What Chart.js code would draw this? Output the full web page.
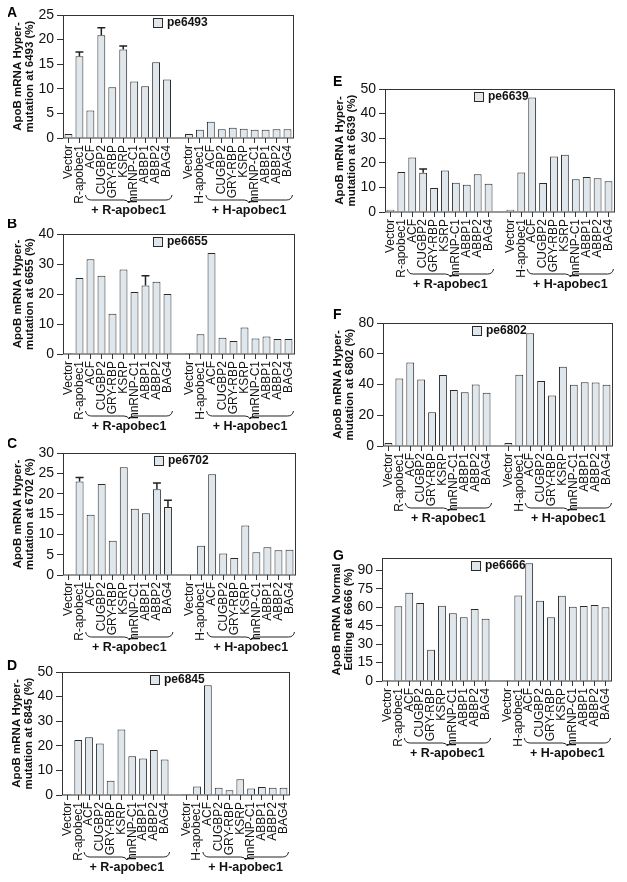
<!DOCTYPE html>
<html>
<head>
<meta charset="utf-8">
<script src="https://cdn.jsdelivr.net/npm/chart.js@4.4.1/dist/chart.umd.min.js"></script>
<style>
  html, body { margin: 0; padding: 0; background: #fff; overflow: hidden; width: 627px; height: 882px; }
  canvas { position: absolute; }
</style>
</head>
<body>
<canvas id="pA"></canvas>
<canvas id="pB"></canvas>
<canvas id="pC"></canvas>
<canvas id="pD"></canvas>
<canvas id="pE"></canvas>
<canvas id="pF"></canvas>
<canvas id="pG"></canvas>
<script>
/* Dados */

const categories = ["Vector", "R-apobec1", "ACF", "CUGBP2", "GRY-RBP", "KSRP", "hnRNP-C1", "ABBP1", "ABBP2", "BAG4", "",
  "Vector", "H-apobec1", "ACF", "CUGBP2", "GRY-RBP", "KSRP", "hnRNP-C1", "ABBP1", "ABBP2", "BAG4"];
const groupLabels = ["+ R-apobec1", "+ H-apobec1"];

const pe6493 = [0.8, 16.6, 5.6, 20.9, 10.3, 18.0, 11.5, 10.5, 15.4, 11.9, null, 0.8, 1.7, 3.3, 1.8, 2.1, 1.9, 1.7, 1.7, 1.8, 1.8];
const err6493 = [null, 0.9, null, 1.5, null, 0.7, null, null, null, null, null, null, null, null, null, null, null, null, null, null, null];

const pe6655 = [0.3, 25.3, 31.6, 26.1, 13.4, 28.2, 20.7, 22.8, 24.1, 20.0, null, 0.3, 6.6, 33.7, 5.4, 4.3, 8.8, 5.2, 5.8, 5.0, 5.0];
const err6655 = [null, null, null, null, null, null, null, 3.3, null, null, null, null, null, null, null, null, null, null, null, null, null];

const pe6702 = [0.15, 23.0, 14.8, 22.4, 8.4, 26.5, 16.3, 15.2, 21.1, 16.7, null, 0.15, 7.2, 24.8, 5.3, 4.2, 12.2, 5.6, 6.8, 6.1, 6.2];
const err6702 = [null, 1.0, null, null, null, null, null, null, 1.5, 1.7, null, null, null, null, null, null, null, null, null, null, null];

const pe6845 = [0.4, 22.4, 23.5, 20.9, 5.8, 26.6, 15.8, 14.8, 18.3, 14.4, null, 0.4, 3.5, 44.6, 2.9, 1.9, 6.4, 2.6, 3.3, 2.9, 2.9];

const pe6639 = [0.95, 16.3, 22.2, 16.0, 9.8, 16.9, 11.9, 11.1, 15.3, 11.5, null, 0.95, 16.1, 46.5, 11.8, 22.6, 23.3, 13.3, 14.2, 13.7, 12.5];
const err6639 = [null, null, null, 1.5, null, null, null, null, null, null, null, null, null, null, null, null, null, null, null, null, null];

const pe6802 = [1.9, 43.9, 54.3, 43.3, 22.0, 46.1, 36.5, 35.0, 40.0, 34.6, null, 1.9, 46.3, 73.3, 42.2, 32.8, 51.5, 39.8, 41.5, 41.3, 39.8];

const pe6666 = [0.3, 60.7, 71.8, 63.4, 25.5, 61.2, 55.0, 51.8, 58.5, 50.7, null, 0.3, 69.6, 95.7, 65.3, 51.8, 69.4, 60.4, 61.0, 61.8, 59.9];

/* Painéis: posição da área do gráfico [esquerda, topo, direita, base] */

const paineis = [
  { id: "pA", letra: "A", letraPos: [7, 17], area: [63, 15, 300, 138], nome: "pe6493", dados: pe6493, erros: err6493, max: 25, passo: 5, titulo: ["ApoB mRNA Hyper-", "mutation at 6493 (%)"] },
  { id: "pB", letra: "B", letraPos: [7, 228], area: [63, 234, 301, 354], nome: "pe6655", dados: pe6655, erros: err6655, max: 40, passo: 10, titulo: ["ApoB mRNA Hyper-", "mutation at 6655 (%)"] },
  { id: "pC", letra: "C", letraPos: [7, 448], area: [63, 453, 302, 575], nome: "pe6702", dados: pe6702, erros: err6702, max: 30, passo: 5, titulo: ["ApoB mRNA Hyper-", "mutation at 6702 (%)"] },
  { id: "pD", letra: "D", letraPos: [7, 670], area: [62, 672, 296, 795], nome: "pe6845", dados: pe6845, erros: null, max: 50, passo: 10, titulo: ["ApoB mRNA Hyper-", "mutation at 6845 (%)"] },
  { id: "pE", letra: "E", letraPos: [333, 86], area: [385, 89, 621, 212], nome: "pe6639", dados: pe6639, erros: err6639, max: 50, passo: 10, titulo: ["ApoB mRNA Hyper-", "mutation at 6639 (%)"] },
  { id: "pF", letra: "F", letraPos: [333, 319], area: [383, 323, 619, 446], nome: "pe6802", dados: pe6802, erros: null, max: 80, passo: 20, titulo: ["ApoB mRNA Hyper-", "mutation at 6802 (%)"] },
  { id: "pG", letra: "G", letraPos: [333, 560], area: [382, 558, 618, 681], nome: "pe6666", dados: pe6666, erros: null, max: 100, passo: 15, titulo: ["ApoB mRNA Normal", "Editing at 6666 (%)"] }
];

Chart.defaults.font.family = "'Liberation Sans', Arial, Helvetica, sans-serif";
Chart.defaults.color = "#111";

const EIXO_Y = 55;
const TOPO = 15;
const BASE_X = 88;
const DIREITA = 4;
const FONTE = "'Liberation Sans', Arial, sans-serif";

/* Moldura, legenda, barras de erro, chaves e letra do painel */
const decoracao = {
  id: "decoracao",
  afterDraw(chart, args, opts) {
    const ctx = chart.ctx;
    const ca = chart.chartArea;
    const xs = chart.scales.x;
    const ys = chart.scales.y;
    const ds = chart.data.datasets[0];
    ctx.save();
    ctx.strokeStyle = "#333";
    ctx.lineWidth = 1;
    ctx.strokeRect(Math.round(ca.left) + 0.5, Math.round(ca.top) + 0.5, Math.round(ca.right - ca.left), Math.round(ca.bottom - ca.top) - 0.5);

    // legenda dentro da área
    ctx.font = "bold 12px " + FONTE;
    const tw = ctx.measureText(ds.label).width;
    const lx = Math.round((ca.left + ca.right) / 2 - (9 + 5 + tw) / 2) + 2;
    const ly = Math.round(ca.top) + 3;
    ctx.fillStyle = ds.backgroundColor;
    ctx.fillRect(lx, ly, 9, 9);
    ctx.strokeStyle = ds.borderColor;
    ctx.strokeRect(lx + 0.5, ly + 0.5, 9, 9);
    ctx.fillStyle = "#111";
    ctx.textAlign = "left";
    ctx.textBaseline = "middle";
    ctx.fillText(ds.label, lx + 14, ly + 5);

    // barras de erro (só a parte de cima)
    if (opts.erros) {
      const meta = chart.getDatasetMeta(0);
      opts.erros.forEach((e, i) => {
        if (e == null) return;
        const bar = meta.data[i];
        const v = ds.data[i];
        const yTop = ys.getPixelForValue(v + e);
        const half = bar.width / 2;
        ctx.strokeStyle = "#222";
        ctx.lineWidth = 1.5;
        ctx.beginPath();
        ctx.moveTo(bar.x, bar.y);
        ctx.lineTo(bar.x, yTop);
        ctx.moveTo(bar.x - half, yTop);
        ctx.lineTo(bar.x + half, yTop);
        ctx.stroke();
      });
    }

    // chaves e rótulos dos grupos
    const y0 = ca.bottom + 57;
    [[2, 9], [13, 20]].forEach((g, k) => {
      const x1 = xs.getPixelForValue(g[0]) - 5;
      const x2 = xs.getPixelForValue(g[1]) + 5;
      const mid = (x1 + x2) / 2;
      ctx.strokeStyle = "#222";
      ctx.lineWidth = 1;
      ctx.beginPath();
      ctx.moveTo(x1, y0);
      ctx.quadraticCurveTo(x1 + 1, y0 + 5, x1 + 6, y0 + 5);
      ctx.lineTo(mid - 5, y0 + 5);
      ctx.quadraticCurveTo(mid - 1, y0 + 5, mid, y0 + 8);
      ctx.quadraticCurveTo(mid + 1, y0 + 5, mid + 5, y0 + 5);
      ctx.lineTo(x2 - 6, y0 + 5);
      ctx.quadraticCurveTo(x2 - 1, y0 + 5, x2, y0);
      ctx.stroke();
      ctx.fillStyle = "#111";
      ctx.font = "bold 12.5px " + FONTE;
      ctx.textAlign = "center";
      ctx.textBaseline = "middle";
      ctx.fillText(groupLabels[k], mid, ca.bottom + 73);
    });

    // letra do painel
    ctx.font = "bold 14px " + FONTE;
    ctx.textAlign = "left";
    ctx.textBaseline = "alphabetic";
    ctx.fillStyle = "#000";
    ctx.fillText(opts.letra, opts.letraX, opts.letraY);
    ctx.restore();
  }
};

function criarPainel(p) {
  const canvas = document.getElementById(p.id);
  const esq = p.area[0] - EIXO_Y;
  const topo = p.area[1] - TOPO;
  const largura = p.area[2] - esq + DIREITA;
  const altura = p.area[3] - topo + BASE_X;
  canvas.width = largura;
  canvas.height = altura;
  canvas.style.left = esq + "px";
  canvas.style.top = topo + "px";

  const data = {
    labels: categories,
    datasets: [
      {
        label: p.nome,
        data: p.dados,
        backgroundColor: "#dfe7ed",
        borderColor: "#2a2a2a",
        borderWidth: 1,
        categoryPercentage: 1,
        barPercentage: 0.72,
      },
    ],
  };

  const config = {
    type: "bar",
    data: data,
    options: {
      responsive: false,
      animation: false,
      events: [],
      layout: { padding: { top: TOPO, right: DIREITA, left: 0, bottom: 0 } },
      scales: {
        x: {
          offset: true,
          afterFit: (s) => { s.height = BASE_X; },
          border: { display: false },
          grid: {
            offset: false,
            drawOnChartArea: false,
            drawTicks: true,
            tickLength: 5,
            color: (c) => (c.index === 10 ? "rgba(0,0,0,0)" : "#333"),
          },
          ticks: {
            autoSkip: false,
            minRotation: 90,
            maxRotation: 90,
            padding: 2,
            font: { size: 12 },
            color: "#111",
          },
        },
        y: {
          min: 0,
          max: p.max,
          afterFit: (s) => { s.width = EIXO_Y; },
          afterBuildTicks: (s) => { s.ticks = s.ticks.filter((t) => t.value % p.passo === 0); },
          border: { display: false },
          grid: { drawOnChartArea: false, tickLength: 6, color: "#333" },
          ticks: { stepSize: p.passo, includeBounds: false, padding: 3, font: { size: 14 }, color: "#111" },
          title: {
            display: true,
            text: p.titulo,
            font: { size: 11.5, weight: "bold", lineHeight: 1.05 },
            color: "#111",
            padding: { top: 4, bottom: 0 },
          },
        },
      },
      plugins: {
        legend: { display: false },
        tooltip: { enabled: false },
        decoracao: {
          erros: p.erros,
          letra: p.letra,
          letraX: p.letraPos[0] - esq,
          letraY: p.letraPos[1] - topo,
        },
      },
    },
    plugins: [decoracao],
  };
  return new Chart(canvas, config);
}

paineis.forEach(criarPainel);
</script>
</body>
</html>
